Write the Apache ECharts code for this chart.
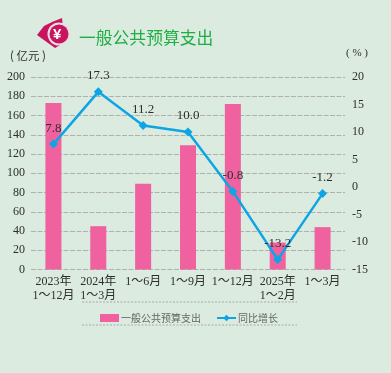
<!DOCTYPE html>
<html><head><meta charset="utf-8">
<style>html,body{margin:0;padding:0;background:#dbebdf}#c{width:391px;height:373px}</style>
<script src="https://cdn.jsdelivr.net/npm/echarts@6/dist/echarts.min.js"></script>
</head><body><div id="c"></div>
<script>
const categories = ['2023年\n1～12月','2024年\n1～3月','1～6月','1～9月','1～12月','2025年\n1～2月','1～3月'];
const spending = [173,45,89,129,172,28,44];
const growth = [7.8,17.3,11.2,10.0,-0.8,-13.2,-1.2];
const growthLabels = ['7.8','17.3','11.2','10.0','-0.8','-13.2','-1.2'];
const barName = '一般公共预算支出';
const lineName = '同比增长';
const FONT = '"Liberation Serif","Noto Sans CJK SC",serif';
const TXT = '#2e2e2e';
const chart = echarts.init(document.getElementById('c'),null,{renderer:'canvas'});
chart.setOption({
  animation:false,
  backgroundColor:'#dbebdf',
  textStyle:{fontFamily:FONT,color:TXT},
  grid:{left:31,right:46,top:77,bottom:103.5,containLabel:false},
  legend:{
    left:95,top:308,itemGap:15,itemWidth:19,itemHeight:8,
    textStyle:{fontFamily:'"Noto Sans CJK SC",sans-serif',fontSize:10,color:'#666',padding:[0,0,0,-3]},
    data:[{name:barName,icon:'rect'},{name:lineName}]
  },
  xAxis:{type:'category',data:categories,
    axisLine:{show:false},axisTick:{show:false},
    axisLabel:{interval:0,fontSize:12,lineHeight:13.5,color:TXT,margin:6,fontFamily:FONT}},
  yAxis:[
    {type:'value',min:0,max:200,interval:20,
      axisLine:{show:false},axisTick:{show:false},
      axisLabel:{fontSize:12,color:TXT,margin:6,fontFamily:FONT},
      splitLine:{show:true,lineStyle:{color:'#b0b0b0',type:[5,1.5],width:1}}},
    {type:'value',min:-15,max:20,interval:5,
      axisLine:{show:false},axisTick:{show:false},
      axisLabel:{fontSize:12,color:TXT,margin:7,fontFamily:FONT,align:'left'},
      splitLine:{show:false}}
  ],
  series:[
    {name:barName,type:'bar',data:spending,barWidth:16,
      itemStyle:{color:'#ef619f'}},
    {name:lineName,type:'line',yAxisIndex:1,
      data:growth,symbol:'diamond',symbolSize:9,
      lineStyle:{color:'#0ea5e4',width:2.5},
      itemStyle:{color:'#0ea5e4'},
      label:{show:true,position:'top',distance:5,fontSize:13,color:TXT,fontFamily:FONT,
        formatter:p=>growthLabels[p.dataIndex]}}
  ],
  graphic:[
    {type:'text',left:10,top:50,style:{text:'( 亿元 )',fontSize:11.5,fill:TXT,fontFamily:'"Noto Sans CJK SC",sans-serif'}},
    {type:'text',left:346,top:48,style:{text:'( % )',fontSize:11,fill:TXT,fontFamily:FONT}},
    {type:'text',left:79,top:29,style:{text:barName,fontSize:16.8,fill:'#1fae45',fontFamily:'"Noto Sans CJK SC",sans-serif'}},
    {type:'line',shape:{x1:82,y1:302,x2:297,y2:302},style:{stroke:'#a9a9a9',lineWidth:1,lineDash:[2,1.5]}},
    {type:'line',shape:{x1:82,y1:325,x2:297,y2:325},style:{stroke:'#a9a9a9',lineWidth:1,lineDash:[2,1.5]}},
    {type:'polygon',shape:{points:[[37,35],[44,26],[52,22],[62,18],[63,27],[62,44],[55,48]]},style:{fill:'#c8155f'}},
    {type:'circle',shape:{cx:59,cy:34,r:11.5},style:{fill:'#e8dfe0'}},
    {type:'circle',shape:{cx:59,cy:34,r:9.5},style:{fill:'#c8155f'}},
    {type:'text',left:53,top:27,style:{text:'¥',fontSize:15,fontWeight:'bold',fill:'#fff',fontFamily:'"Liberation Sans",sans-serif'}}
  ]
});
</script></body></html>
